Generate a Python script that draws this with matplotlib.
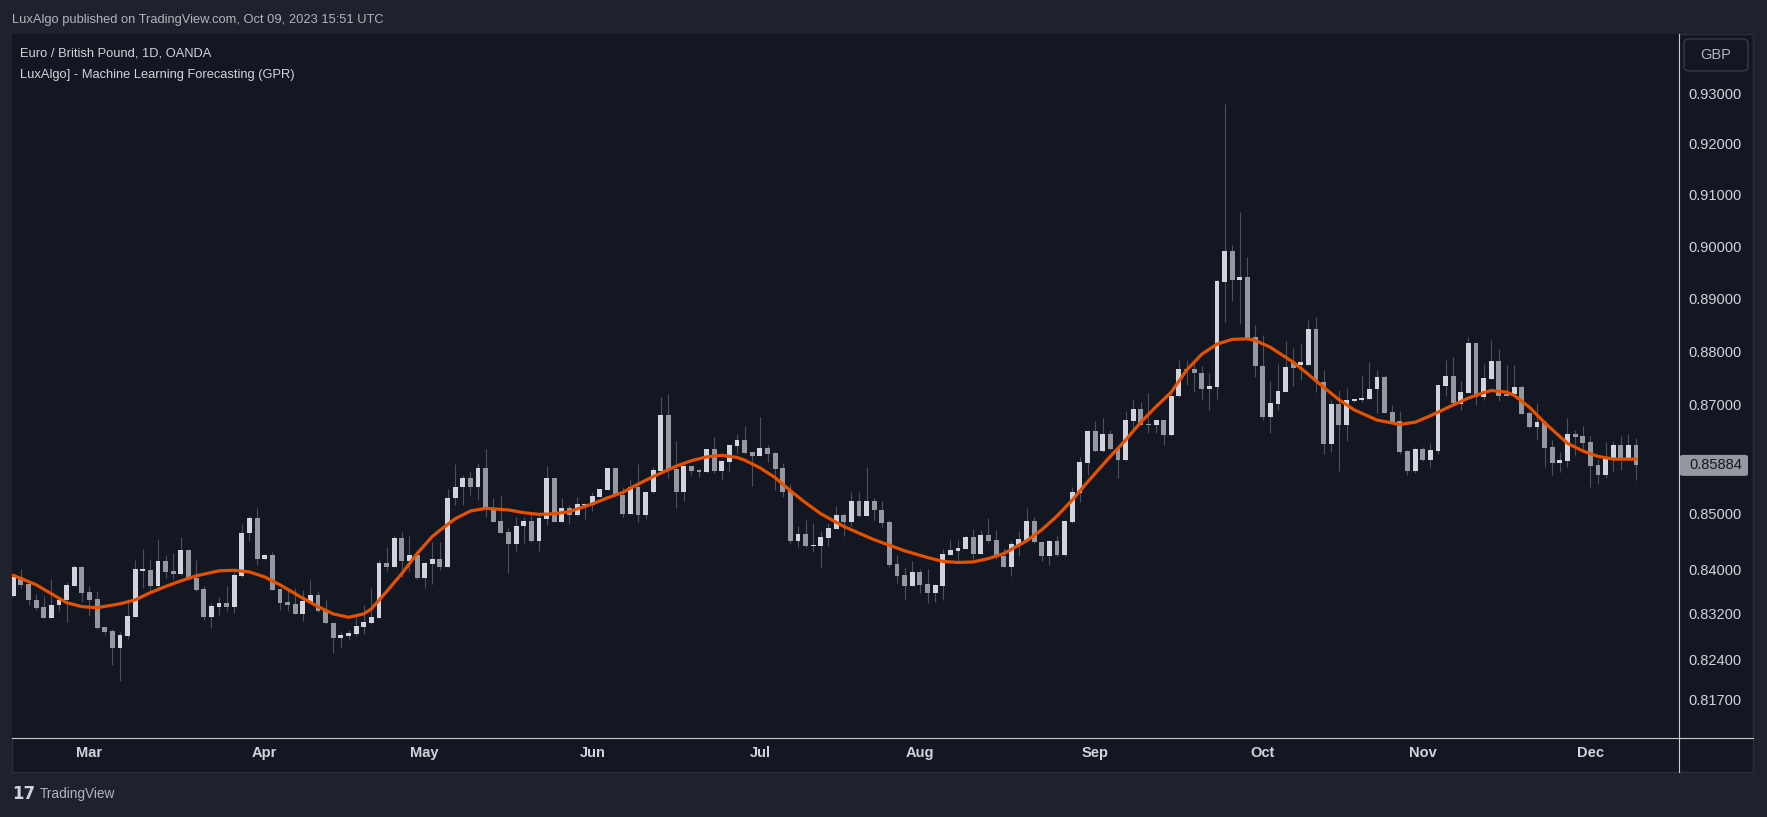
import matplotlib
matplotlib.use("Agg")
import matplotlib.pyplot as plt
from matplotlib.patches import Rectangle, FancyBboxPatch
from matplotlib.lines import Line2D
from matplotlib.ticker import FixedLocator, FixedFormatter, NullLocator
from matplotlib import font_manager
import pandas as pd
import numpy as np

# ---------------- data ----------------
dates = pd.bdate_range("2022-02-15", "2022-12-09")

opens = [
    0.8352, 0.8386, 0.8373, 0.8345, 0.8332, 0.8313, 0.8335, 0.8344, 0.8370, 0.8404,
    0.8359, 0.8347, 0.8297, 0.8290, 0.8260, 0.8281, 0.8315, 0.8397, 0.8398, 0.8369,
    0.8414, 0.8396, 0.8392, 0.8434, 0.8385, 0.8364, 0.8315, 0.8333, 0.8339, 0.8333,
    0.8388, 0.8465, 0.8493, 0.8418, 0.8425, 0.8364, 0.8341, 0.8338, 0.8320, 0.8342,
    0.8354, 0.8327, 0.8304, 0.8278, 0.8281, 0.8285, 0.8297, 0.8304, 0.8313, 0.8411,
    0.8404, 0.8457, 0.8414, 0.8425, 0.8385, 0.8410, 0.8418, 0.8404, 0.8528, 0.8548,
    0.8565, 0.8548, 0.8583, 0.8510, 0.8487, 0.8467, 0.8446, 0.8477, 0.8487, 0.8450,
    0.8491, 0.8565, 0.8486, 0.8511, 0.8497, 0.8516, 0.8516, 0.8531, 0.8544, 0.8583,
    0.8534, 0.8500, 0.8549, 0.8497, 0.8539, 0.8579, 0.8681, 0.8582, 0.8540, 0.8587,
    0.8580, 0.8577, 0.8618, 0.8579, 0.8595, 0.8624, 0.8635, 0.8613, 0.8605, 0.8620,
    0.8611, 0.8583, 0.8541, 0.8450, 0.8463, 0.8441, 0.8442, 0.8457, 0.8473, 0.8498,
    0.8485, 0.8523, 0.8496, 0.8523, 0.8507, 0.8485, 0.8409, 0.8389, 0.8370, 0.8395,
    0.8373, 0.8357, 0.8370, 0.8426, 0.8433, 0.8437, 0.8458, 0.8428, 0.8462, 0.8453,
    0.8424, 0.8404, 0.8444, 0.8453, 0.8487, 0.8449, 0.8423, 0.8451, 0.8426, 0.8486,
    0.8538, 0.8593, 0.8652, 0.8615, 0.8646, 0.8620, 0.8598, 0.8671, 0.8692, 0.8665,
    0.8662, 0.8672, 0.8644, 0.8716, 0.8767, 0.8767, 0.8760, 0.8729, 0.8734, 0.8932,
    0.8991, 0.8936, 0.8941, 0.8827, 0.8773, 0.8677, 0.8702, 0.8725, 0.8780, 0.8775,
    0.8775, 0.8843, 0.8743, 0.8627, 0.8702, 0.8662, 0.8708, 0.8710, 0.8711, 0.8729,
    0.8752, 0.8687, 0.8670, 0.8615, 0.8579, 0.8618, 0.8599, 0.8615, 0.8736, 0.8754,
    0.8701, 0.8723, 0.8816, 0.8714, 0.8749, 0.8782, 0.8720, 0.8720, 0.8734, 0.8685,
    0.8660, 0.8668, 0.8622, 0.8593, 0.8597, 0.8646, 0.8643, 0.8631, 0.8589, 0.8571,
    0.8600, 0.8626, 0.8601, 0.8626,
]
highs = [
    0.8390, 0.8401, 0.8377, 0.8355, 0.8352, 0.8382, 0.8351, 0.8377, 0.8407, 0.8405,
    0.8369, 0.8361, 0.8297, 0.8294, 0.8288, 0.8347, 0.8416, 0.8436, 0.8418, 0.8455,
    0.8425, 0.8429, 0.8458, 0.8437, 0.8416, 0.8369, 0.8339, 0.8351, 0.8370, 0.8397,
    0.8481, 0.8496, 0.8510, 0.8428, 0.8431, 0.8366, 0.8366, 0.8366, 0.8363, 0.8380,
    0.8360, 0.8344, 0.8304, 0.8288, 0.8291, 0.8315, 0.8336, 0.8367, 0.8416, 0.8440,
    0.8461, 0.8467, 0.8459, 0.8427, 0.8413, 0.8449, 0.8449, 0.8545, 0.8591, 0.8571,
    0.8578, 0.8592, 0.8618, 0.8528, 0.8534, 0.8474, 0.8495, 0.8494, 0.8502, 0.8502,
    0.8587, 0.8566, 0.8528, 0.8516, 0.8530, 0.8519, 0.8540, 0.8546, 0.8583, 0.8585,
    0.8548, 0.8563, 0.8591, 0.8540, 0.8585, 0.8714, 0.8720, 0.8633, 0.8592, 0.8587,
    0.8581, 0.8618, 0.8641, 0.8599, 0.8626, 0.8646, 0.8661, 0.8613, 0.8678, 0.8626,
    0.8613, 0.8592, 0.8554, 0.8477, 0.8489, 0.8484, 0.8468, 0.8484, 0.8514, 0.8501,
    0.8540, 0.8540, 0.8586, 0.8528, 0.8523, 0.8489, 0.8425, 0.8404, 0.8415, 0.8400,
    0.8401, 0.8373, 0.8437, 0.8453, 0.8453, 0.8462, 0.8472, 0.8471, 0.8492, 0.8471,
    0.8438, 0.8450, 0.8468, 0.8510, 0.8495, 0.8450, 0.8453, 0.8462, 0.8489, 0.8549,
    0.8604, 0.8654, 0.8671, 0.8676, 0.8654, 0.8623, 0.8689, 0.8711, 0.8706, 0.8722,
    0.8673, 0.8673, 0.8722, 0.8784, 0.8785, 0.8780, 0.8772, 0.8759, 0.8937, 0.9278,
    0.9003, 0.9066, 0.8980, 0.8850, 0.8831, 0.8745, 0.8777, 0.8819, 0.8806, 0.8814,
    0.8860, 0.8865, 0.8765, 0.8709, 0.8728, 0.8731, 0.8712, 0.8756, 0.8780, 0.8765,
    0.8756, 0.8700, 0.8689, 0.8616, 0.8623, 0.8623, 0.8629, 0.8740, 0.8784, 0.8790,
    0.8744, 0.8828, 0.8817, 0.8777, 0.8822, 0.8804, 0.8775, 0.8774, 0.8737, 0.8688,
    0.8703, 0.8672, 0.8635, 0.8613, 0.8675, 0.8654, 0.8661, 0.8643, 0.8601, 0.8632,
    0.8633, 0.8642, 0.8646, 0.8638,
]
lows = [
    0.8350, 0.8366, 0.8336, 0.8327, 0.8312, 0.8312, 0.8326, 0.8306, 0.8369, 0.8342,
    0.8316, 0.8294, 0.8282, 0.8229, 0.8202, 0.8276, 0.8314, 0.8367, 0.8357, 0.8366,
    0.8385, 0.8383, 0.8389, 0.8380, 0.8360, 0.8309, 0.8295, 0.8318, 0.8325, 0.8322,
    0.8386, 0.8450, 0.8407, 0.8416, 0.8363, 0.8327, 0.8326, 0.8320, 0.8308, 0.8339,
    0.8324, 0.8302, 0.8250, 0.8262, 0.8275, 0.8281, 0.8284, 0.8302, 0.8312, 0.8397,
    0.8403, 0.8386, 0.8395, 0.8383, 0.8367, 0.8373, 0.8399, 0.8404, 0.8516, 0.8516,
    0.8534, 0.8525, 0.8494, 0.8486, 0.8465, 0.8393, 0.8433, 0.8447, 0.8448, 0.8433,
    0.8480, 0.8485, 0.8485, 0.8482, 0.8496, 0.8490, 0.8505, 0.8531, 0.8543, 0.8533,
    0.8494, 0.8500, 0.8486, 0.8490, 0.8537, 0.8574, 0.8566, 0.8511, 0.8524, 0.8571,
    0.8568, 0.8575, 0.8574, 0.8563, 0.8577, 0.8610, 0.8610, 0.8551, 0.8605, 0.8595,
    0.8543, 0.8531, 0.8446, 0.8440, 0.8439, 0.8433, 0.8403, 0.8441, 0.8472, 0.8459,
    0.8477, 0.8495, 0.8496, 0.8489, 0.8476, 0.8404, 0.8375, 0.8345, 0.8370, 0.8358,
    0.8340, 0.8341, 0.8345, 0.8426, 0.8415, 0.8436, 0.8418, 0.8427, 0.8447, 0.8418,
    0.8403, 0.8388, 0.8424, 0.8453, 0.8447, 0.8415, 0.8407, 0.8423, 0.8424, 0.8484,
    0.8522, 0.8571, 0.8613, 0.8613, 0.8617, 0.8566, 0.8597, 0.8654, 0.8662, 0.8649,
    0.8649, 0.8626, 0.8643, 0.8714, 0.8737, 0.8725, 0.8711, 0.8691, 0.8711, 0.8855,
    0.8896, 0.8852, 0.8821, 0.8753, 0.8673, 0.8649, 0.8691, 0.8724, 0.8735, 0.8747,
    0.8772, 0.8725, 0.8610, 0.8613, 0.8578, 0.8634, 0.8706, 0.8706, 0.8709, 0.8686,
    0.8685, 0.8668, 0.8610, 0.8571, 0.8574, 0.8597, 0.8586, 0.8609, 0.8717, 0.8700,
    0.8691, 0.8722, 0.8700, 0.8709, 0.8748, 0.8708, 0.8717, 0.8718, 0.8683, 0.8658,
    0.8635, 0.8586, 0.8571, 0.8577, 0.8586, 0.8607, 0.8617, 0.8548, 0.8554, 0.8565,
    0.8577, 0.8580, 0.8601, 0.8562,
]
closes = [
    0.8386, 0.8372, 0.8344, 0.8331, 0.8313, 0.8336, 0.8345, 0.8371, 0.8404, 0.8358,
    0.8345, 0.8295, 0.8288, 0.8260, 0.8282, 0.8316, 0.8400, 0.8400, 0.8369, 0.8414,
    0.8395, 0.8392, 0.8434, 0.8385, 0.8363, 0.8315, 0.8334, 0.8339, 0.8333, 0.8389,
    0.8466, 0.8493, 0.8418, 0.8425, 0.8363, 0.8340, 0.8336, 0.8320, 0.8343, 0.8354,
    0.8326, 0.8303, 0.8278, 0.8282, 0.8286, 0.8298, 0.8306, 0.8314, 0.8411, 0.8404,
    0.8457, 0.8414, 0.8425, 0.8385, 0.8411, 0.8418, 0.8404, 0.8528, 0.8549, 0.8565,
    0.8548, 0.8583, 0.8510, 0.8486, 0.8466, 0.8446, 0.8478, 0.8487, 0.8450, 0.8493,
    0.8565, 0.8486, 0.8511, 0.8497, 0.8518, 0.8518, 0.8533, 0.8545, 0.8583, 0.8534,
    0.8500, 0.8549, 0.8497, 0.8540, 0.8580, 0.8681, 0.8580, 0.8540, 0.8587, 0.8578,
    0.8576, 0.8618, 0.8579, 0.8596, 0.8626, 0.8635, 0.8612, 0.8605, 0.8620, 0.8609,
    0.8582, 0.8540, 0.8450, 0.8463, 0.8441, 0.8444, 0.8458, 0.8474, 0.8498, 0.8485,
    0.8523, 0.8496, 0.8523, 0.8506, 0.8484, 0.8407, 0.8387, 0.8370, 0.8395, 0.8371,
    0.8357, 0.8371, 0.8427, 0.8435, 0.8438, 0.8458, 0.8428, 0.8462, 0.8451, 0.8423,
    0.8404, 0.8445, 0.8454, 0.8487, 0.8448, 0.8423, 0.8451, 0.8426, 0.8487, 0.8540,
    0.8594, 0.8652, 0.8615, 0.8646, 0.8618, 0.8598, 0.8672, 0.8692, 0.8663, 0.8662,
    0.8672, 0.8645, 0.8717, 0.8767, 0.8765, 0.8759, 0.8729, 0.8736, 0.8934, 0.8991,
    0.8936, 0.8941, 0.8825, 0.8772, 0.8677, 0.8704, 0.8726, 0.8771, 0.8770, 0.8780,
    0.8843, 0.8742, 0.8627, 0.8702, 0.8662, 0.8709, 0.8711, 0.8713, 0.8730, 0.8752,
    0.8686, 0.8669, 0.8613, 0.8579, 0.8618, 0.8599, 0.8616, 0.8737, 0.8754, 0.8704,
    0.8724, 0.8816, 0.8714, 0.8750, 0.8782, 0.8717, 0.8717, 0.8734, 0.8684, 0.8660,
    0.8668, 0.8621, 0.8593, 0.8598, 0.8646, 0.8641, 0.8630, 0.8588, 0.8571, 0.8600,
    0.8626, 0.8601, 0.8626, 0.85884,
]

# GPR forecast line (bar index, value)
gpr_bar = [0, 3, 5, 7, 9, 11, 14, 16, 18, 20, 22, 24, 27, 29, 31, 33, 35, 38, 40, 42,
           44, 46, 47, 49, 51, 53, 55, 56, 58, 60, 62, 65, 67, 69, 71, 73, 76, 78, 80, 82,
           84, 87, 89, 91, 93, 95, 96, 98, 100, 102, 104, 106, 109, 111, 113, 115, 117, 120, 122, 124,
           126, 128, 130, 133, 135, 137, 139, 141, 144, 146, 148, 150, 152, 154, 156, 158, 160, 162, 163, 165,
           168, 170, 172, 174, 176, 179, 182, 184, 186, 189, 191, 193, 194, 196, 197, 199, 201, 204, 206, 208,
           210, 213]
gpr_val = [0.8389, 0.8372, 0.8356, 0.8340, 0.8333, 0.8331, 0.8338, 0.8345, 0.8358, 0.8369,
           0.8379, 0.8388, 0.8397, 0.8398, 0.8395, 0.8386, 0.8372, 0.8348, 0.8333, 0.8320,
           0.8314, 0.8320, 0.8329, 0.8360, 0.8392, 0.8428, 0.8459, 0.8470, 0.8491, 0.8505,
           0.8510, 0.8507, 0.8502, 0.8499, 0.8500, 0.8504, 0.8518, 0.8529, 0.8539, 0.8554,
           0.8568, 0.8587, 0.8597, 0.8604, 0.8607, 0.8603, 0.8598, 0.8584, 0.8566, 0.8542,
           0.8520, 0.8500, 0.8477, 0.8465, 0.8453, 0.8443, 0.8433, 0.8421, 0.8414, 0.8412,
           0.8413, 0.8419, 0.8428, 0.8451, 0.8471, 0.8496, 0.8525, 0.8558, 0.8605, 0.8635,
           0.8668, 0.8697, 0.8724, 0.8765, 0.8795, 0.8814, 0.8823, 0.8824, 0.8821, 0.8808,
           0.8780, 0.8757, 0.8733, 0.8710, 0.8691, 0.8672, 0.8664, 0.8668, 0.8680, 0.8700,
           0.8713, 0.8723, 0.8727, 0.8724, 0.8718, 0.8696, 0.8667, 0.8629, 0.8615, 0.8605,
           0.8600, 0.8600]

price_ticks = [0.817, 0.824, 0.832, 0.84, 0.85, 0.86, 0.87, 0.88, 0.89, 0.90, 0.91, 0.92, 0.93]
month_labels = ["Mar", "Apr", "May", "Jun", "Jul", "Aug", "Sep", "Oct", "Nov", "Dec"]

header_text = "LuxAlgo published on TradingView.com, Oct 09, 2023 15:51 UTC"
legend_1 = "Euro / British Pound, 1D, OANDA"
legend_2 = "LuxAlgo] - Machine Learning Forecasting (GPR)"
currency = "GBP"

# ---------------- style ----------------
OUTER = "#1e222d"
PANEL = "#131722"
UP = "#d1d4dc"
DOWN = "#9598a1"
WICK = "#4c505b"
LINE = "#e65100"
TXT = "#d1d4dc"
TXT2 = "#b2b5be"

avail = {f.name for f in font_manager.fontManager.ttflist}
NARROW = "Liberation Sans Narrow" if "Liberation Sans Narrow" in avail else "Liberation Sans"
nsize = 11 if NARROW == "Liberation Sans Narrow" else 9.3
plt.rcParams["font.family"] = ["Liberation Sans", "DejaVu Sans"]

W, H = 1767, 817
fig = plt.figure(figsize=(W / 100, H / 100), dpi=100, facecolor=OUTER)


def fx(px):
    return px / W


def fy(py):
    return 1 - py / H


# chart panel background
fig.patches.append(Rectangle((fx(12), fy(772)), fx(1753) - fx(12), fy(34) - fy(772),
                             transform=fig.transFigure, facecolor=PANEL,
                             edgecolor="#2a2e39", lw=1, zorder=-5))

ax = fig.add_axes([fx(12), fy(738), fx(1679) - fx(12), fy(34) - fy(738)])
ax.set_zorder(1)
ax.set_facecolor(PANEL)
for s in ax.spines.values():
    s.set_visible(False)

x = np.arange(len(dates))
o = np.array(opens)
c = np.array(closes)
h = np.array(highs)
l = np.array(lows)
up = c >= o
colors = np.where(up, UP, DOWN)
bottoms = np.minimum(o, c)
tops = np.maximum(o, c)
heights = np.maximum(tops - bottoms, 0.00014)

ax.vlines(x, l, h, color=WICK, lw=0.8, zorder=2)
ax.bar(x, heights, bottom=bottoms, width=0.64, color=colors, lw=0, zorder=3)
ax.plot(gpr_bar, gpr_val, color=LINE, lw=2.3, solid_capstyle="round",
        solid_joinstyle="round", zorder=4)

ax.set_yscale("log")
ax.set_ylim(0.81022, 0.94181)
ax.set_xlim(-0.17, len(dates) - 1 + 5.64)

ax.yaxis.tick_right()
ax.yaxis.set_major_locator(FixedLocator(price_ticks))
ax.yaxis.set_major_formatter(FixedFormatter([f"{v:.5f}" for v in price_ticks]))
ax.yaxis.set_minor_locator(NullLocator())
ax.tick_params(axis="y", length=0, pad=7, labelsize=10.5, labelcolor=TXT)

month_pos = []
for m in range(3, 13):
    idx = np.where(dates.month == m)[0][0]
    month_pos.append(idx)
ax.xaxis.set_major_locator(FixedLocator(month_pos))
ax.xaxis.set_major_formatter(FixedFormatter(month_labels))
ax.tick_params(axis="x", length=0, pad=6, labelsize=10.5, labelcolor=TXT)
for t in ax.get_xticklabels():
    t.set_fontweight("bold")

# separators
fig.add_artist(Line2D([fx(1679), fx(1679)], [fy(34), fy(772)], transform=fig.transFigure,
                      color="#c8cad2", lw=0.8, zorder=6))
fig.add_artist(Line2D([fx(12), fx(1753)], [fy(738), fy(738)], transform=fig.transFigure,
                      color="#c8cad2", lw=0.8, zorder=6))

# last price label
ypx = ax.transData.transform((0, closes[-1]))[1]
ypx_top = H - ypx
fig.add_artist(FancyBboxPatch((fx(1680), fy(ypx_top + 10.5)), fx(1748) - fx(1680), 21 / H,
                              boxstyle="round,pad=0,rounding_size=0.002",
                              transform=fig.transFigure, facecolor="#9598a1",
                              edgecolor="none", zorder=7))
fig.text(fx(1689), fy(ypx_top), f"{closes[-1]:.5f}", color=PANEL, fontsize=10.5,
         ha="left", va="center", zorder=8)

# currency box
fig.add_artist(FancyBboxPatch((fx(1684), fy(71)), fx(1748) - fx(1684), 32 / H,
                              boxstyle="round,pad=0,rounding_size=0.004",
                              transform=fig.transFigure, facecolor=PANEL,
                              edgecolor="#363a45", lw=1, zorder=7))
fig.text(fx(1716), fy(55), currency, color=TXT2, fontsize=10.5, ha="center", va="center", zorder=8)

# texts
fig.text(fx(12), fy(20), header_text, color=TXT2, fontsize=nsize, family=NARROW,
         ha="left", va="center")
fig.text(fx(20), fy(53), legend_1, color=TXT, fontsize=nsize, family=NARROW,
         ha="left", va="center", zorder=8)
fig.text(fx(20), fy(75), legend_2, color=TXT, fontsize=nsize, family=NARROW,
         ha="left", va="center", zorder=8)

# footer logo
fig.text(fx(12), fy(794), "17", color=TXT, fontsize=12, fontweight="heavy",
         family="DejaVu Sans", ha="left", va="center")
fig.text(fx(40), fy(794), "TradingView", color=TXT2, fontsize=nsize + 0.5, family=NARROW,
         ha="left", va="center")

fig.savefig("out.png", dpi=100, facecolor=OUTER)
